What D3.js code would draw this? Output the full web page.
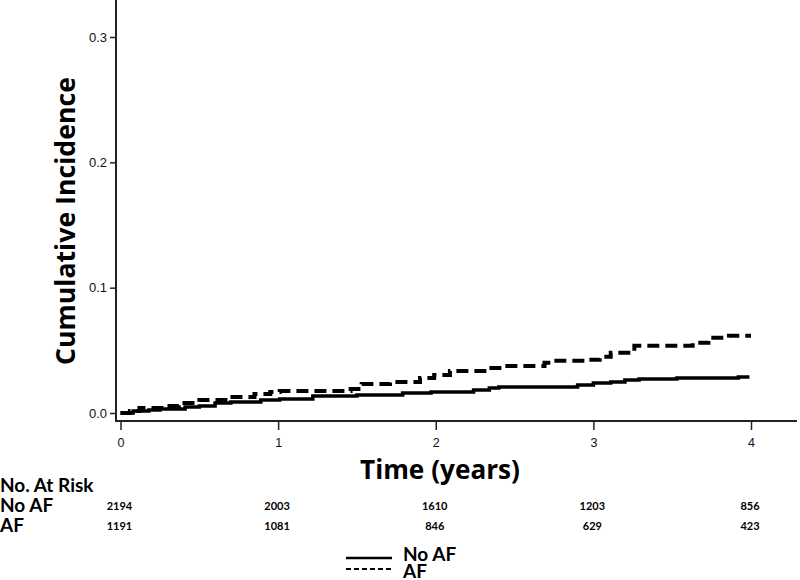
<!DOCTYPE html>
<html>
<head>
<meta charset="utf-8">
<script src="https://cdn.jsdelivr.net/npm/d3@7"></script>
<style>
  html, body { margin: 0; padding: 0; background: #fff; }
  svg { display: block; }
</style>
</head>
<body>
<svg id="chart" width="800" height="580"></svg>
<script>
// ---- data ----
const xTicks = [0, 1, 2, 3, 4];
const yTicks = [0.0, 0.1, 0.2, 0.3];

const timesNoAF = [0, 0.08, 0.18, 0.25, 0.41, 0.50, 0.60, 0.70, 0.89, 1.01, 1.22, 1.50, 1.79, 1.97, 2.24, 2.34, 2.40, 2.90, 3.00, 3.11, 3.20, 3.29, 3.53, 3.92, 3.99];
const valuesNoAF = [0, 0.0016, 0.0024, 0.0032, 0.0048, 0.0056, 0.0080, 0.0088, 0.0104, 0.0112, 0.0136, 0.0144, 0.0160, 0.0168, 0.0184, 0.0200, 0.0208, 0.0224, 0.0240, 0.0248, 0.0264, 0.0272, 0.0280, 0.0288, 0.0288];

const timesAF = [0, 0.06, 0.12, 0.28, 0.37, 0.50, 0.69, 0.85, 0.95, 1.01, 1.46, 1.53, 1.71, 1.90, 1.99, 2.09, 2.34, 2.43, 2.69, 2.75, 2.97, 3.04, 3.11, 3.26, 3.63, 3.73, 3.86, 4.00];
const valuesAF = [0, 0.0016, 0.0040, 0.0056, 0.0080, 0.0104, 0.0128, 0.0152, 0.0168, 0.0176, 0.0192, 0.0232, 0.0248, 0.0280, 0.0304, 0.0336, 0.0360, 0.0376, 0.0400, 0.0416, 0.0424, 0.0448, 0.0480, 0.0536, 0.0560, 0.0600, 0.0616, 0.0616];

const riskTimes = [0, 1, 2, 3, 4];
const riskNoAF = [2194, 2003, 1610, 1203, 856];
const riskAF = [1191, 1081, 846, 629, 423];

const seriesNames = ["No AF", "AF"];

// ---- layout ----
const svg = d3.select("#chart");
const x = d3.scaleLinear().domain([0, 4]).range([120.5, 751]);
const y = d3.scaleLinear().domain([0, 0.3]).range([413, 37]);
const axisX0 = 116, axisY0 = 421;

const titleFont = "'Open Sans', 'DejaVu Sans', sans-serif";
const labelFont = "Lato, 'Open Sans', sans-serif";
const tickFont = "'Liberation Sans', Arial, sans-serif";

function fit(sel, w) {
  const cur = sel.node().getComputedTextLength();
  const fs = parseFloat(sel.attr("font-size"));
  sel.attr("font-size", (fs * w / cur).toFixed(2));
}

// axis lines
svg.append("line").attr("x1", axisX0).attr("x2", axisX0).attr("y1", 0).attr("y2", axisY0 + 1)
  .attr("stroke", "#222").attr("stroke-width", 2);
svg.append("line").attr("x1", axisX0 - 1).attr("x2", 797).attr("y1", axisY0).attr("y2", axisY0)
  .attr("stroke", "#222").attr("stroke-width", 2);

// y axis
const gy = svg.append("g").attr("transform", `translate(${axisX0},0)`)
  .call(d3.axisLeft(y).tickValues(yTicks).tickFormat(d3.format(".1f")).tickSize(6).tickPadding(3));
gy.select(".domain").remove();
gy.selectAll(".tick line").attr("stroke", "#222").attr("stroke-width", 1.5);
gy.selectAll(".tick text").attr("font-family", tickFont).attr("font-size", 13).attr("fill", "#111");

// x axis
const gx = svg.append("g").attr("transform", `translate(0,${axisY0})`)
  .call(d3.axisBottom(x).tickValues(xTicks).tickFormat(d3.format("d")).tickSize(9).tickPadding(8));
gx.select(".domain").remove();
gx.selectAll(".tick line").attr("stroke", "#222").attr("stroke-width", 1.5);
gx.selectAll(".tick text").attr("font-family", tickFont).attr("font-size", 12.5).attr("fill", "#111");

// curves
const line = d3.line().x(d => x(d[0])).y(d => y(d[1])).curve(d3.curveStepAfter);
const dataNoAF = timesNoAF.map((t, i) => [t, valuesNoAF[i]]);
const dataAF = timesAF.map((t, i) => [t, valuesAF[i]]);

svg.append("path").datum(dataAF).attr("d", line)
  .attr("fill", "none").attr("stroke", "#000").attr("stroke-width", 4)
  .attr("stroke-dasharray", "12,6");
svg.append("path").datum(dataNoAF).attr("d", line)
  .attr("fill", "none").attr("stroke", "#000").attr("stroke-width", 3.5);

// axis titles
const yt = svg.append("text").attr("transform", "translate(75,221) rotate(-90)")
  .attr("text-anchor", "middle").attr("font-family", titleFont).attr("font-weight", 700)
  .attr("font-size", 25).attr("fill", "#000").text("Cumulative Incidence");
fit(yt, 288);

const xt = svg.append("text").attr("x", 440).attr("y", 479)
  .attr("text-anchor", "middle").attr("font-family", titleFont).attr("font-weight", 700)
  .attr("font-size", 27).attr("fill", "#000").text("Time (years)");
fit(xt, 160);

// risk table
const fsRow = 19;
svg.append("text").attr("x", 0).attr("y", 492)
  .attr("font-family", labelFont).attr("font-weight", 700).attr("font-size", fsRow)
  .attr("fill", "#000").text("No. At Risk");
svg.append("text").attr("x", 0).attr("y", 512).attr("font-family", labelFont).attr("font-weight", 700)
  .attr("font-size", fsRow).attr("fill", "#000").text(seriesNames[0]);
svg.append("text").attr("x", 0).attr("y", 532).attr("font-family", labelFont).attr("font-weight", 700)
  .attr("font-size", fsRow).attr("fill", "#000").text(seriesNames[1]);

svg.append("g").selectAll("text").data(riskTimes).join("text")
  .attr("x", d => x(d) - 1).attr("y", 510).attr("text-anchor", "middle")
  .attr("font-family", labelFont).attr("font-weight", 700).attr("font-size", 11).attr("fill", "#000")
  .text((d, i) => riskNoAF[i]);
svg.append("g").selectAll("text").data(riskTimes).join("text")
  .attr("x", d => x(d) - 1).attr("y", 530).attr("text-anchor", "middle")
  .attr("font-family", labelFont).attr("font-weight", 700).attr("font-size", 11).attr("fill", "#000")
  .text((d, i) => riskAF[i]);

// legend
svg.append("line").attr("x1", 346).attr("x2", 392).attr("y1", 558).attr("y2", 558)
  .attr("stroke", "#000").attr("stroke-width", 2.5);
svg.append("line").attr("x1", 346).attr("x2", 392).attr("y1", 569).attr("y2", 569)
  .attr("stroke", "#000").attr("stroke-width", 1.8).attr("stroke-dasharray", "5,3");
svg.append("text").attr("x", 403).attr("y", 561).attr("font-family", labelFont).attr("font-weight", 700)
  .attr("font-size", fsRow).attr("fill", "#000").text(seriesNames[0]);
svg.append("text").attr("x", 403).attr("y", 578).attr("font-family", labelFont).attr("font-weight", 700)
  .attr("font-size", fsRow).attr("fill", "#000").text(seriesNames[1]);
</script>
</body>
</html>
